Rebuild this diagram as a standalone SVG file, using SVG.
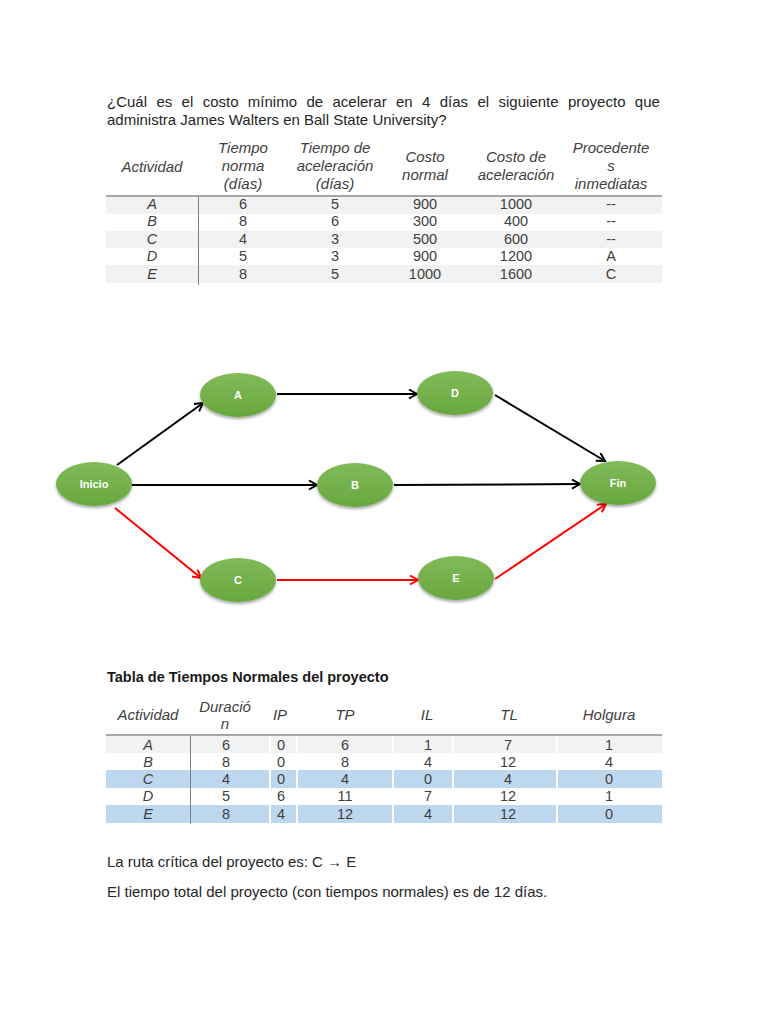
<svg xmlns="http://www.w3.org/2000/svg" width="768" height="1024" viewBox="0 0 768 1024">
<style>
  .p { font-family: "Liberation Sans", Arial, sans-serif; font-size: 15px; fill: #262626; }
  .h { font-family: "Liberation Sans", Arial, sans-serif; font-size: 15px; font-style: italic; fill: #404040; text-anchor: middle; }
  .c { font-family: "Liberation Sans", Arial, sans-serif; font-size: 14.5px; fill: #404040; text-anchor: middle; }
  .ci { font-family: "Liberation Sans", Arial, sans-serif; font-size: 14.5px; font-style: italic; fill: #404040; text-anchor: middle; }
  .t { font-family: "Liberation Sans", Arial, sans-serif; font-size: 14.5px; font-weight: bold; fill: #1a1a1a; }
  .nl { font-family: "Liberation Sans", Arial, sans-serif; font-size: 11px; font-weight: bold; fill: #ffffff; text-anchor: middle; }
  .node ellipse { fill: url(#g); filter: url(#sh); }
  .blk { stroke: #000000; stroke-width: 2; fill: none; marker-end: url(#ab); }
  .red { stroke: #ff0000; stroke-width: 2; fill: none; marker-end: url(#ar); }
  .hl { stroke: #a6a6a6; stroke-width: 2; }
  .vl { stroke: #7f7f7f; stroke-width: 1; }
  .sep { stroke: #ffffff; stroke-width: 2; }
</style>
<defs>
  <linearGradient id="g" x1="0" y1="0" x2="0" y2="1">
    <stop offset="0" stop-color="#80bb58"/>
    <stop offset="1" stop-color="#69a73f"/>
  </linearGradient>
  <filter id="sh" x="-20%" y="-20%" width="140%" height="160%">
    <feGaussianBlur in="SourceAlpha" stdDeviation="1.5"/>
    <feOffset dy="2" result="b"/>
    <feComponentTransfer><feFuncA type="linear" slope="0.35"/></feComponentTransfer>
    <feMerge><feMergeNode/><feMergeNode in="SourceGraphic"/></feMerge>
  </filter>
  <marker id="ab" markerUnits="userSpaceOnUse" markerWidth="12" markerHeight="12" refX="9" refY="5" orient="auto">
    <path d="M1,0.5 L9,5 L1,9.5" fill="none" stroke="#000000" stroke-width="2"/>
  </marker>
  <marker id="ar" markerUnits="userSpaceOnUse" markerWidth="12" markerHeight="12" refX="9" refY="5" orient="auto">
    <path d="M1,0.5 L9,5 L1,9.5" fill="none" stroke="#ff0000" stroke-width="2"/>
  </marker>
</defs>
<rect width="768" height="1024" fill="#ffffff"/>

<!-- Question -->
<text class="p" x="107" y="107" word-spacing="5.2">¿Cuál es el costo mínimo de acelerar en 4 días el siguiente proyecto que</text>
<text class="p" x="107" y="125">administra James Walters en Ball State University?</text>

<!-- Table 1 -->
<g id="table1">
  <rect x="106" y="197" width="556" height="17" fill="#f2f2f2"/>
  <rect x="106" y="231" width="556" height="17" fill="#f2f2f2"/>
  <rect x="106" y="265" width="556" height="18" fill="#f2f2f2"/>
  <line class="hl" x1="106" y1="196" x2="662" y2="196"/>
  <line class="vl" x1="198.5" y1="197" x2="198.5" y2="285"/>
  <text class="h" x="152" y="172">Actividad</text>
  <text class="h" x="243" y="153">Tiempo</text>
  <text class="h" x="243" y="171">norma</text>
  <text class="h" x="243" y="189">(días)</text>
  <text class="h" x="335" y="153">Tiempo de</text>
  <text class="h" x="335" y="171">aceleración</text>
  <text class="h" x="335" y="189">(días)</text>
  <text class="h" x="425" y="162">Costo</text>
  <text class="h" x="425" y="180">normal</text>
  <text class="h" x="516" y="162">Costo de</text>
  <text class="h" x="516" y="180">aceleración</text>
  <text class="h" x="611" y="153">Procedente</text>
  <text class="h" x="611" y="171">s</text>
  <text class="h" x="611" y="189">inmediatas</text>

  <text class="ci" x="152" y="209">A</text><text class="c" x="243" y="209">6</text><text class="c" x="335" y="209">5</text><text class="c" x="425" y="209">900</text><text class="c" x="516" y="209">1000</text><text class="c" x="611" y="209">--</text>
  <text class="ci" x="152" y="226">B</text><text class="c" x="243" y="226">8</text><text class="c" x="335" y="226">6</text><text class="c" x="425" y="226">300</text><text class="c" x="516" y="226">400</text><text class="c" x="611" y="226">--</text>
  <text class="ci" x="152" y="244">C</text><text class="c" x="243" y="244">4</text><text class="c" x="335" y="244">3</text><text class="c" x="425" y="244">500</text><text class="c" x="516" y="244">600</text><text class="c" x="611" y="244">--</text>
  <text class="ci" x="152" y="261">D</text><text class="c" x="243" y="261">5</text><text class="c" x="335" y="261">3</text><text class="c" x="425" y="261">900</text><text class="c" x="516" y="261">1200</text><text class="c" x="611" y="261">A</text>
  <text class="ci" x="152" y="279">E</text><text class="c" x="243" y="279">8</text><text class="c" x="335" y="279">5</text><text class="c" x="425" y="279">1000</text><text class="c" x="516" y="279">1600</text><text class="c" x="611" y="279">C</text>
</g>

<!-- Network connectors -->
<g id="connectors">
  <line class="blk" x1="117" y1="465" x2="203" y2="403"/>
  <line class="blk" x1="277" y1="394" x2="417" y2="394"/>
  <line class="blk" x1="495" y1="395" x2="605" y2="461"/>
  <line class="blk" x1="132" y1="485" x2="317" y2="485"/>
  <line class="blk" x1="394" y1="485" x2="580" y2="484"/>
  <line class="red" x1="115" y1="508" x2="201" y2="578"/>
  <line class="red" x1="277" y1="580" x2="418" y2="580"/>
  <line class="red" x1="495" y1="579" x2="606" y2="504"/>
</g>

<!-- Nodes -->
<g id="node-inicio" class="node"><ellipse cx="94" cy="484" rx="38" ry="22"/><text class="nl" x="94" y="488">Inicio</text></g>
<g id="node-a" class="node"><ellipse cx="238" cy="395" rx="38" ry="22"/><text class="nl" x="238" y="399">A</text></g>
<g id="node-d" class="node"><ellipse cx="455" cy="393" rx="38" ry="22"/><text class="nl" x="455" y="397">D</text></g>
<g id="node-b" class="node"><ellipse cx="355" cy="485" rx="38" ry="22"/><text class="nl" x="355" y="489">B</text></g>
<g id="node-fin" class="node"><ellipse cx="618" cy="483" rx="38" ry="22"/><text class="nl" x="618" y="487">Fin</text></g>
<g id="node-c" class="node"><ellipse cx="238" cy="580" rx="38" ry="22"/><text class="nl" x="238" y="584">C</text></g>
<g id="node-e" class="node"><ellipse cx="456" cy="578" rx="38" ry="22"/><text class="nl" x="456" y="582">E</text></g>

<!-- Table 2 -->
<text class="t" x="107" y="682">Tabla de Tiempos Normales del proyecto</text>
<g id="table2">
  <rect x="106" y="736" width="556" height="17" fill="#f2f2f2"/>
  <rect x="106" y="770" width="556" height="18" fill="#bdd7ee"/>
  <rect x="106" y="805" width="556" height="18" fill="#bdd7ee"/>
  <line class="sep" x1="270" y1="736" x2="270" y2="823"/>
  <line class="sep" x1="297" y1="736" x2="297" y2="823"/>
  <line class="sep" x1="393" y1="736" x2="393" y2="823"/>
  <line class="sep" x1="453" y1="736" x2="453" y2="823"/>
  <line class="sep" x1="557" y1="736" x2="557" y2="823"/>
  <line class="hl" x1="106" y1="735" x2="662" y2="735"/>
  <line class="vl" x1="190.5" y1="736" x2="190.5" y2="824"/>
  <text class="h" x="148" y="720">Actividad</text>
  <text class="h" x="225" y="712">Duració</text>
  <text class="h" x="225" y="729">n</text>
  <text class="h" x="280" y="720">IP</text>
  <text class="h" x="345" y="720">TP</text>
  <text class="h" x="427" y="720">IL</text>
  <text class="h" x="509" y="720">TL</text>
  <text class="h" x="609" y="720">Holgura</text>

  <text class="ci" x="148" y="750">A</text><text class="c" x="226" y="750">6</text><text class="c" x="281" y="750">0</text><text class="c" x="345" y="750">6</text><text class="c" x="428" y="750">1</text><text class="c" x="508" y="750">7</text><text class="c" x="609" y="750">1</text>
  <text class="ci" x="148" y="767">B</text><text class="c" x="226" y="767">8</text><text class="c" x="281" y="767">0</text><text class="c" x="345" y="767">8</text><text class="c" x="428" y="767">4</text><text class="c" x="508" y="767">12</text><text class="c" x="609" y="767">4</text>
  <text class="ci" x="148" y="784">C</text><text class="c" x="226" y="784">4</text><text class="c" x="281" y="784">0</text><text class="c" x="345" y="784">4</text><text class="c" x="428" y="784">0</text><text class="c" x="508" y="784">4</text><text class="c" x="609" y="784">0</text>
  <text class="ci" x="148" y="801">D</text><text class="c" x="226" y="801">5</text><text class="c" x="281" y="801">6</text><text class="c" x="345" y="801">11</text><text class="c" x="428" y="801">7</text><text class="c" x="508" y="801">12</text><text class="c" x="609" y="801">1</text>
  <text class="ci" x="148" y="819">E</text><text class="c" x="226" y="819">8</text><text class="c" x="281" y="819">4</text><text class="c" x="345" y="819">12</text><text class="c" x="428" y="819">4</text><text class="c" x="508" y="819">12</text><text class="c" x="609" y="819">0</text>
</g>

<text class="p" x="107" y="867">La ruta crítica del proyecto es: C → E</text>
<text class="p" x="107" y="897">El tiempo total del proyecto (con tiempos normales) es de 12 días.</text>
</svg>
